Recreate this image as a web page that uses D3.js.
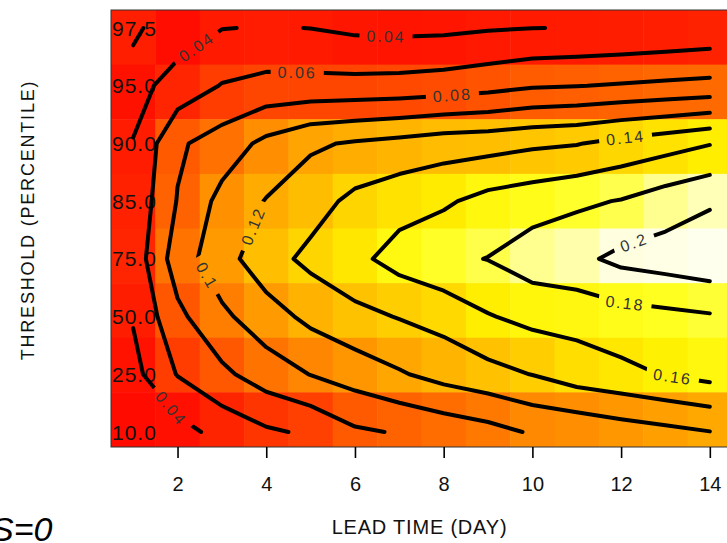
<!DOCTYPE html>
<html>
<head>
<meta charset="utf-8">
<script src="https://cdn.jsdelivr.net/npm/d3@7"></script>
<style>
  html, body { margin: 0; padding: 0; background: #fff; }
  svg { display: block; font-family: "Liberation Sans", Arial, sans-serif; }
</style>
</head>
<body>
<svg id="chart" width="727" height="543"></svg>
<script>
// Axes
const leadDays = [1, 2, 3, 4, 5, 6, 7, 8, 9, 10, 11, 12, 13, 14];
const thresholds = ['97.5', '95.0', '90.0', '85.0', '75.0', '50.0', '25.0', '10.0']; // top -> bottom
const xTicks = [2, 4, 6, 8, 10, 12, 14];
const levels = [0.04, 0.06, 0.08, 0.1, 0.12, 0.14, 0.16, 0.18, 0.2];

// Score by lead day, one array per threshold
const p975 = [0.043, 0.030, 0.0395, 0.041, 0.0398, 0.0362, 0.0352, 0.0358, 0.0384, 0.0398, 0.0405, 0.0416, 0.0436, 0.0456];
const p950 = [0.033, 0.048, 0.061, 0.066, 0.066, 0.066, 0.067, 0.0692, 0.073, 0.078, 0.0795, 0.0816, 0.0836, 0.0856];
const p900 = [0.0408, 0.077, 0.089, 0.105, 0.117, 0.1222, 0.126, 0.131, 0.1325, 0.1365, 0.139, 0.146, 0.152, 0.159];
const p850 = [0.045, 0.081, 0.106, 0.121, 0.1316, 0.145, 0.1524, 0.157, 0.1665, 0.1715, 0.1765, 0.181, 0.190, 0.1975];
const p750 = [0.048, 0.090, 0.112, 0.132, 0.145, 0.155, 0.1675, 0.176, 0.1805, 0.190, 0.195, 0.205, 0.209, 0.214];
const p500 = [0.0415, 0.0753, 0.096, 0.1113, 0.125, 0.1345, 0.141, 0.147, 0.1587, 0.1658, 0.167, 0.172, 0.175, 0.178];
const p250 = [0.034, 0.061, 0.0757, 0.090, 0.1005, 0.109, 0.118, 0.127, 0.1335, 0.1405, 0.150, 0.155, 0.161, 0.1665];
const p100 = [0.028, 0.032, 0.047, 0.057, 0.063, 0.077, 0.0815, 0.087, 0.093, 0.102, 0.1045, 0.110, 0.1145, 0.1195];

// Where the contour labels sit (level, lead day, threshold row)
const labelLevels = [0.04, 0.04, 0.04, 0.06, 0.08, 0.1, 0.12, 0.14, 0.16, 0.18, 0.2];
const labelDays   = [2.4, 6.7, 2.0, 4.7, 8.2, 2.65, 3.6, 12.1, 13.15, 12.1, 12.35];
const labelRows   = [0.3, 0.15, 6.5, 0.7, 1.2, 4.3, 3.4, 1.9, 6.1, 4.7, 3.85];

const grid = [p975, p950, p900, p850, p750, p500, p250, p100];
const nx = leadDays.length, ny = thresholds.length;

const svg = d3.select('#chart');
const plot = { left: 111, right: 732, top: 10, bottom: 447 };

const xScale = d3.scaleLinear().domain([0.5, 14.5]).range([plot.left, plot.right]);
const yCell = d3.scaleBand().domain(d3.range(ny)).range([plot.top, plot.bottom]);
const yGrid = d3.scaleLinear().domain([0, ny - 1]).range([28, 432]);

const color = d3.scaleLinear()
    .domain([0.02, 0.05, 0.08, 0.11, 0.14, 0.16, 0.175, 0.19, 0.205, 0.215])
    .range(['#ff0000', '#ff2800', '#ff6000', '#ff9800', '#ffcc00', '#fff000', '#ffff20', '#ffff90', '#ffffe0', '#fffff0'])
    .clamp(true);

svg.append('defs').append('clipPath').attr('id', 'plotClip')
    .append('rect')
    .attr('x', plot.left).attr('y', plot.top)
    .attr('width', plot.right - plot.left).attr('height', plot.bottom - plot.top);

// heat cells
const cells = [];
grid.forEach((row, j) => row.forEach((v, i) => cells.push({ day: leadDays[i], j, v })));

svg.append('g')
    .attr('clip-path', 'url(#plotClip)')
    .selectAll('rect')
    .data(cells)
    .enter()
    .append('rect')
    .attr('x', d => xScale(d.day - 0.5))
    .attr('y', d => yCell(d.j))
    .attr('width', xScale(1.5) - xScale(0.5) + 0.5)
    .attr('height', yCell.bandwidth() + 0.5)
    .attr('fill', d => color(d.v));

// frame
svg.append('rect')
    .attr('x', plot.left).attr('y', plot.top)
    .attr('width', plot.right - plot.left).attr('height', plot.bottom - plot.top)
    .attr('fill', 'none')
    .attr('stroke', '#333')
    .attr('stroke-width', 1);

// threshold labels inside the plot
svg.append('g')
    .selectAll('text')
    .data(thresholds)
    .enter()
    .append('text')
    .attr('x', plot.left + 1)
    .attr('y', (d, i) => yGrid(i))
    .attr('dy', '0.36em')
    .style('font-size', '21px')
    .style('letter-spacing', '1px')
    .style('fill', '#111')
    .text(d => d);

// contour lines (open lines, the grid border is dropped)
const flat = [].concat(...grid);
const contours = d3.contours().size([nx, ny]).thresholds(levels)(flat);

function openLines(geo) {
    const inside = p => p[0] > 0.25 && p[0] < nx - 0.25 && p[1] > 0.25 && p[1] < ny - 0.25;
    const out = [];
    geo.coordinates.forEach(poly => poly.forEach(ring => {
        const pts = ring.slice(0, -1);
        const n = pts.length;
        const start = pts.findIndex(p => !inside(p));
        if (start < 0) { out.push(ring); return; }
        let cur = [];
        for (let k = 1; k <= n; k++) {
            const p = pts[(start + k) % n];
            if (inside(p)) cur.push(p);
            else { if (cur.length > 1) out.push(cur); cur = []; }
        }
        if (cur.length > 1) out.push(cur);
    }));
    return out.map(line => line.map(p => [xScale(p[0] + 0.5), yGrid(p[1] - 0.5)]));
}

const lineSets = contours.map(c => ({ value: c.value, lines: openLines(c) }));

function fmt(v) { return String(+v.toFixed(2)); }

function placeLabel(lines, ax, ay) {
    let best = null;
    lines.forEach(pts => {
        for (let i = 0; i < pts.length - 1; i++) {
            const [x0, y0] = pts[i], [x1, y1] = pts[i + 1];
            const dx = x1 - x0, dy = y1 - y0;
            const len2 = dx * dx + dy * dy || 1;
            const t = Math.max(0, Math.min(1, ((ax - x0) * dx + (ay - y0) * dy) / len2));
            const px = x0 + t * dx, py = y0 + t * dy;
            const d = (px - ax) ** 2 + (py - ay) ** 2;
            if (!best || d < best.d) best = { d, x: px, y: py, angle: Math.atan2(dy, dx) * 180 / Math.PI };
        }
    });
    let a = best.angle;
    if (a > 90) a -= 180;
    if (a < -90) a += 180;
    return { x: best.x, y: best.y, angle: a };
}

const labels = labelLevels.map((lv, i) => {
    const set = lineSets.find(s => Math.abs(s.value - lv) < 1e-9);
    const pos = placeLabel(set.lines, xScale(labelDays[i]), yGrid(labelRows[i]));
    return Object.assign({ text: fmt(lv) }, pos);
});

// labels first so we can measure them for the line gaps
const labelG = svg.append('g');
const labelText = labelG.selectAll('text')
    .data(labels)
    .enter()
    .append('text')
    .attr('transform', d => `translate(${d.x},${d.y}) rotate(${d.angle})`)
    .attr('text-anchor', 'middle')
    .attr('dy', '0.36em')
    .style('font-size', '16px')
    .style('letter-spacing', '2px')
    .style('fill', '#333')
    .text(d => d.text);

labelText.each(function(d) { d.w = this.getComputedTextLength(); });

const mask = svg.select('defs').append('mask').attr('id', 'labelMask')
    .attr('maskUnits', 'userSpaceOnUse')
    .attr('x', 0).attr('y', 0).attr('width', 727).attr('height', 543);
mask.append('rect').attr('x', 0).attr('y', 0).attr('width', 727).attr('height', 543).attr('fill', 'white');
mask.selectAll('rect.gap')
    .data(labels)
    .enter()
    .append('rect')
    .attr('class', 'gap')
    .attr('transform', d => `translate(${d.x},${d.y}) rotate(${d.angle})`)
    .attr('x', d => -d.w / 2 - 7)
    .attr('y', -9)
    .attr('width', d => d.w + 14)
    .attr('height', 18)
    .attr('fill', 'black');

const lineGen = d3.line();
svg.append('g')
    .attr('mask', 'url(#labelMask)')
    .selectAll('path')
    .data([].concat(...lineSets.map(s => s.lines)))
    .enter()
    .append('path')
    .attr('d', lineGen)
    .attr('fill', 'none')
    .attr('stroke', '#000')
    .attr('stroke-width', 4)
    .attr('stroke-linejoin', 'round')
    .attr('stroke-linecap', 'round');

labelG.raise();

// x axis
const xAxis = svg.append('g')
    .attr('transform', `translate(0,${plot.bottom})`)
    .call(d3.axisBottom(xScale).tickValues(xTicks).tickSize(11).tickPadding(19));
xAxis.select('.domain').remove();
xAxis.selectAll('line').attr('stroke', '#000').attr('stroke-width', 1.6);
xAxis.selectAll('text')
    .style('font-size', '20px')
    .style('font-family', '"Liberation Sans", Arial, sans-serif')
    .style('fill', '#111');

// titles
svg.append('text')
    .attr('x', (plot.left + plot.right) / 2 - 2)
    .attr('y', 534)
    .attr('text-anchor', 'middle')
    .style('font-size', '20px')
    .style('letter-spacing', '0.8px')
    .style('fill', '#111')
    .text('LEAD TIME (DAY)');

svg.append('text')
    .attr('transform', 'translate(34,220) rotate(-90)')
    .attr('text-anchor', 'middle')
    .style('font-size', '18px')
    .style('letter-spacing', '1.8px')
    .style('fill', '#111')
    .text('THRESHOLD (PERCENTILE)');

svg.append('text')
    .attr('x', -9)
    .attr('y', 541)
    .style('font-size', '34px')
    .style('font-style', 'italic')
    .style('fill', '#000')
    .text('S=0');
</script>
</body>
</html>
